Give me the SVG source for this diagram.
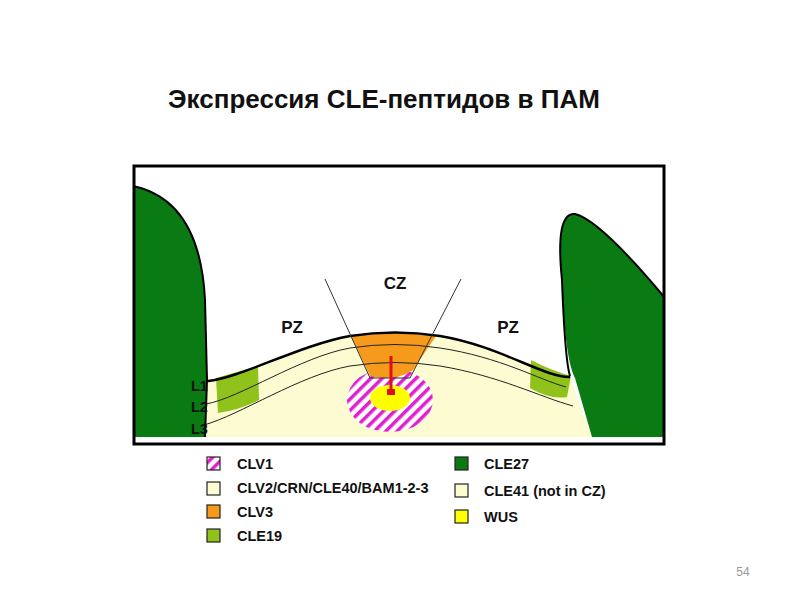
<svg xmlns="http://www.w3.org/2000/svg" width="800" height="600" viewBox="0 0 800 600">
<style>
text{font-family:"Liberation Sans",Arial,sans-serif;font-weight:bold;fill:#111}
.lg{font-size:14.5px}
.lab{font-size:17px}
.box{stroke:#222;stroke-width:1.2}
</style>
<defs>
<pattern id="hatch" patternUnits="userSpaceOnUse" width="8" height="8" patternTransform="rotate(-45)">
<rect width="8" height="8" fill="#fff"/>
<rect width="8" height="3.5" fill="#e020d0"/>
</pattern>
<clipPath id="clipc"><rect x="135" y="167" width="528" height="270"/></clipPath>
</defs>
<rect width="800" height="600" fill="#fff"/>
<text x="384" y="108" text-anchor="middle" style="font-size:26px">Экспрессия CLE-пептидов в ПАМ</text>
<g id="meristem" clip-path="url(#clipc)">
<path d="M205,437 L208,381 C240,378 300,345 350,336 Q395,329 440,336 C500,346 545,378 570,377 L592,437 Z" fill="#fdfbd2"/>
<path d="M133,437 L133,186 Q200,200 205,300 L207,378 L205,437 Z" fill="#0a7a12"/>
<path d="M592,437 L575,378 Q565,360 562,280 Q555,212 575,214 Q600,220 665,298 L665,437 Z" fill="#0a7a12"/>
<path d="M216,378 L258,366 L259,400 Q240,410 218,413 Z" fill="#8fc21a"/>
<path d="M531,360 Q550,370 571,376 L567,397 Q550,400 530,388 Z" fill="#8fc21a"/>
<ellipse cx="390" cy="400" rx="43" ry="32" fill="url(#hatch)"/>
<ellipse cx="390" cy="398" rx="20" ry="13" fill="#ffff00"/>
<path d="M351,336 Q395,329 436,336 L413,370 Q395,382 370,376 Z" fill="#f59a1a"/>
<path d="M208,381 C240,378 300,345 350,336 Q395,329 440,336 C500,346 545,378 570,377" fill="none" stroke="#000" stroke-width="2.5"/>
<path d="M206,404 C240,398 300,357 350,348 Q395,341 440,348 C500,357 540,380 566,387" fill="none" stroke="#222" stroke-width="1"/>
<path d="M204,425 C240,415 300,375 350,366 Q395,359 440,366 C500,376 540,397 573,406" fill="none" stroke="#222" stroke-width="1"/>
<path d="M205,437 L207,380 M570,376 Q565,360 562,280 Q555,212 575,214 Q600,220 665,298 M133,186 Q200,200 205,300 L207,380" fill="none" stroke="#000" stroke-width="2"/>
<path d="M325,279 L370,378 L410,378 L461,279" fill="none" stroke="#333" stroke-width="1"/>
<line x1="391" y1="356" x2="391" y2="393" stroke="#e01010" stroke-width="3"/>
<rect x="387" y="389" width="8" height="6" fill="#e01010"/>
</g>
<rect id="frame" x="134" y="166" width="530" height="278" fill="none" stroke="#000" stroke-width="3"/>
<g id="labels">
<text class="lab" x="395" y="289" text-anchor="middle">CZ</text>
<text class="lab" x="292" y="333" text-anchor="middle">PZ</text>
<text class="lab" x="508" y="333" text-anchor="middle">PZ</text>
<text class="lg" x="191" y="391">L1</text>
<text class="lg" x="191" y="412">L2</text>
<text class="lg" x="191" y="434">L3</text>
</g>
<g id="legend">
<rect class="box" x="207" y="457" width="13" height="13" fill="url(#hatch)"/>
<text class="lg" x="237" y="469">CLV1</text>
<rect class="box" x="207" y="482" width="13" height="13" fill="#fdfbd2"/>
<text class="lg" x="237" y="493">CLV2/CRN/CLE40/BAM1-2-3</text>
<rect class="box" x="207" y="505" width="13" height="13" fill="#f59a1a"/>
<text class="lg" x="237" y="517">CLV3</text>
<rect class="box" x="207" y="529" width="13" height="13" fill="#8fc21a"/>
<text class="lg" x="237" y="541">CLE19</text>
<rect class="box" x="455" y="457" width="13" height="13" fill="#0a7a12"/>
<text class="lg" x="484" y="469">CLE27</text>
<rect class="box" x="455" y="484" width="13" height="13" fill="#fdfbd2"/>
<text class="lg" x="484" y="496">CLE41 (not in CZ)</text>
<rect class="box" x="455" y="510" width="13" height="13" fill="#ffff00"/>
<text class="lg" x="484" y="522">WUS</text>
</g>
<text x="743" y="576" text-anchor="middle" style="font-size:12px;font-weight:normal;fill:#999">54</text>
</svg>
